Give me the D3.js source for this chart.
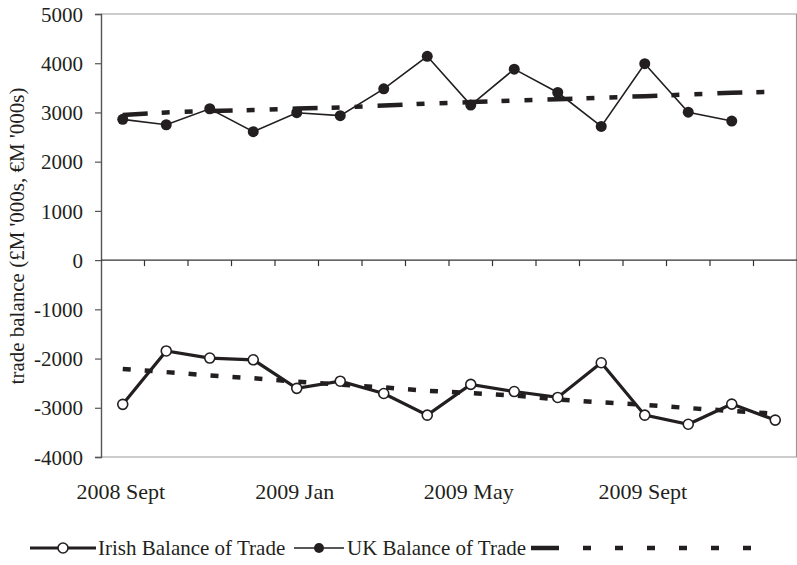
<!DOCTYPE html>
<html>
<head>
<meta charset="utf-8">
<script src="https://cdn.jsdelivr.net/npm/d3@7"></script>
<style>
  html, body { margin: 0; padding: 0; background: #fff; }
  svg text { font-family: "Liberation Serif", "Times New Roman", serif !important; fill: #231f20; }
</style>
</head>
<body>
<svg id="chart" width="797" height="565"></svg>
<script>
// ---- data ----
const months = ["2008 Sept","2008 Oct","2008 Nov","2008 Dec","2009 Jan","2009 Feb","2009 Mar","2009 Apr",
                "2009 May","2009 Jun","2009 Jul","2009 Aug","2009 Sept","2009 Oct","2009 Nov","2009 Dec"];
const tickLabelMonths = ["2008 Sept","2009 Jan","2009 May","2009 Sept"];
const yTicks = [5000,4000,3000,2000,1000,0,-1000,-2000,-3000,-4000];
const irish = [-2930,-1845,-1990,-2025,-2605,-2460,-2710,-3150,-2525,-2670,-2790,-2085,-3150,-3335,-2925,-3250];
const uk = [2860,2750,3075,2610,2995,2935,3480,4140,3150,3880,3405,2715,3990,3005,2825];
const ukTrend = [2950,3000,3030,3050,3080,3100,3140,3180,3210,3240,3270,3300,3330,3365,3400,3420];
const irishTrend = [-2210,-2275,-2345,-2400,-2470,-2530,-2585,-2655,-2700,-2750,-2830,-2890,-2940,-3005,-3065,-3120];
const legendLabels = ["Irish Balance of Trade","UK Balance of Trade"];

// ---- layout ----
const svg = d3.select("#chart");
const L = 101, R = 797, T = 14, B = 457;
const ink = "#231f20";
const serif = "'Liberation Serif', 'Times New Roman', serif";

const x = d3.scaleBand().domain(months).range([L, R]).paddingInner(0).paddingOuter(0);
const cx = m => x(m) + x.bandwidth() / 2;
const y = d3.scaleLinear().domain([-4000, 5000]).range([B, T]);

// plot frame (top, right, bottom)
svg.append("path")
  .attr("d", `M${L},${T}H${R - 0.5}V${B}H${L}`)
  .attr("fill", "none").attr("stroke", "#9a9a9a").attr("stroke-width", 1.2);

// y axis
const yAxis = svg.append("g").attr("transform", `translate(${L},0)`)
  .call(d3.axisLeft(y).tickValues(yTicks).tickFormat(d => String(d)).tickSize(6).tickPadding(12));
yAxis.attr("font-family", serif).attr("font-size", 21);
yAxis.select(".domain").attr("stroke", "#555").attr("stroke-width", 1.4);
yAxis.selectAll(".tick line").attr("stroke", "#555").attr("stroke-width", 1.2);
yAxis.selectAll(".tick text").style("font-size", "21px").style("font-family", serif)
  .attr("fill", ink).attr("dy", "0.34em");

// zero line with category-boundary ticks
svg.append("line").attr("x1", L).attr("x2", R).attr("y1", y(0)).attr("y2", y(0))
  .attr("stroke", "#333").attr("stroke-width", 1.3);
svg.append("g").selectAll("line").data(months.slice(1))
  .join("line")
  .attr("x1", d => x(d)).attr("x2", d => x(d))
  .attr("y1", y(0)).attr("y2", y(0) + 6)
  .attr("stroke", "#333").attr("stroke-width", 1.2);

// x labels (low position)
svg.append("g").selectAll("text").data(tickLabelMonths)
  .join("text")
  .attr("x", d => cx(d) - 2).attr("y", 499)
  .attr("text-anchor", "middle").style("font-size", "22px")
  .text(d => d);

// y axis title
svg.append("text")
  .attr("transform", "translate(24,236) rotate(-90)")
  .attr("text-anchor", "middle").style("font-size", "21px")
  .text("trade balance (£M '000s, €M '000s)");

// trend lines
const line = d3.line().x(d => cx(d.m)).y(d => y(d.v));
const ukTrendData = ukTrend.map((v, i) => ({ m: months[i], v }));
const irishTrendData = irishTrend.map((v, i) => ({ m: months[i], v }));
svg.append("path").datum(ukTrendData).attr("d", line)
  .attr("fill", "none").attr("stroke", ink).attr("stroke-width", 4.5)
  .attr("stroke-dasharray", "25,14,8,15,8,15");
svg.append("path").datum(irishTrendData).attr("d", line)
  .attr("fill", "none").attr("stroke", ink).attr("stroke-width", 4.5)
  .attr("stroke-dasharray", "8,14");

// UK series
const ukData = uk.map((v, i) => ({ m: months[i], v }));
svg.append("path").datum(ukData).attr("d", line)
  .attr("fill", "none").attr("stroke", ink).attr("stroke-width", 1.6);
svg.append("g").selectAll("circle").data(ukData).join("circle")
  .attr("cx", d => cx(d.m)).attr("cy", d => y(d.v)).attr("r", 5.5)
  .attr("fill", ink);

// Irish series
const irishData = irish.map((v, i) => ({ m: months[i], v }));
svg.append("path").datum(irishData).attr("d", line)
  .attr("fill", "none").attr("stroke", ink).attr("stroke-width", 3.2);
svg.append("g").selectAll("circle").data(irishData).join("circle")
  .attr("cx", d => cx(d.m)).attr("cy", d => y(d.v)).attr("r", 5)
  .attr("fill", "#fff").attr("stroke", ink).attr("stroke-width", 1.6);

// legend
const ly = 548;
const lg = svg.append("g");
lg.append("line").attr("x1", 30).attr("x2", 96).attr("y1", ly).attr("y2", ly)
  .attr("stroke", ink).attr("stroke-width", 3.2);
lg.append("circle").attr("cx", 63).attr("cy", ly).attr("r", 5)
  .attr("fill", "#fff").attr("stroke", ink).attr("stroke-width", 1.6);
lg.append("text").attr("x", 98).attr("y", ly + 7).style("font-size", "21px").text(legendLabels[0]);
lg.append("line").attr("x1", 294).attr("x2", 344).attr("y1", ly).attr("y2", ly)
  .attr("stroke", ink).attr("stroke-width", 1.6);
lg.append("circle").attr("cx", 319).attr("cy", ly).attr("r", 5).attr("fill", ink);
lg.append("text").attr("x", 347).attr("y", ly + 7).style("font-size", "21px").text(legendLabels[1]);
lg.append("line").attr("x1", 531).attr("x2", 757).attr("y1", ly).attr("y2", ly)
  .attr("stroke", ink).attr("stroke-width", 4.5)
  .attr("stroke-dasharray", "28,24,8,24,8,24,8,24,8,24,8,24,8,200");
</script>
</body>
</html>
